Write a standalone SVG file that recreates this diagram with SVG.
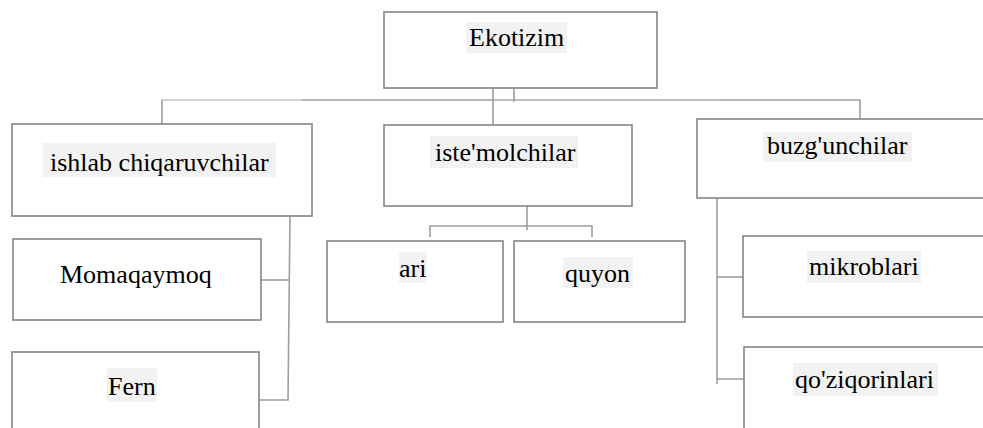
<svg xmlns="http://www.w3.org/2000/svg" width="983" height="428" viewBox="0 0 983 428">
<style>
.box{fill:#ffffff;stroke:#858585;stroke-width:1.6}
.hl{fill:#f2f2f2}
.c{fill:none;stroke:#9e9e9e;stroke-width:1.6}
.cl{fill:none;stroke:#c4c4c4;stroke-width:1.6}
</style>
<rect width="983" height="428" fill="#ffffff"/>
<g id="connectors">
<path class="cl" d="M162,100 H302"/>
<path class="c" d="M302,100 H860 V119"/>
<path class="cl" d="M493,100 H720"/>
<path class="c" d="M162,100 V124"/>
<path class="c" d="M493,88 V125"/>
<path class="c" d="M514,85 V102"/>
<path class="c" d="M290,216 L288,400 H260"/>
<path class="c" d="M257,280 H289"/>
<path class="c" d="M527,206 V230"/>
<path class="c" d="M430,237 V226 H592 V237"/>
<path class="c" d="M717,198 V384"/>
<path class="c" d="M717,277 H743"/>
<path class="c" d="M717,379 H752"/>
</g>
<g id="ekotizim">
<rect class="box" x="384" y="12" width="273" height="76"/>
<rect class="hl" x="466" y="22" width="101" height="31"/>
<text x="469" y="46" font-size="26" font-family="Liberation Serif">Ekotizim</text>
</g>
<g id="ishlab">
<rect class="box" x="12" y="124" width="300" height="92"/>
<rect class="hl" x="43" y="143" width="233" height="34"/>
<text x="50" y="171" font-size="26" font-family="Liberation Serif">ishlab chiqaruvchilar</text>
</g>
<g id="momaqaymoq">
<rect class="box" x="13" y="239" width="248" height="81"/>
<text x="60" y="283" font-size="26" font-family="Liberation Serif">Momaqaymoq</text>
</g>
<g id="fern">
<rect class="box" x="12" y="352" width="247" height="90"/>
<rect class="hl" x="107" y="368" width="50" height="34"/>
<text x="108" y="395" font-size="26" font-family="Liberation Serif">Fern</text>
</g>
<g id="istemolchilar">
<rect class="box" x="384" y="125" width="248" height="81"/>
<rect class="hl" x="430" y="136" width="148" height="32"/>
<text x="435" y="161" font-size="26" font-family="Liberation Serif">iste'molchilar</text>
</g>
<g id="ari">
<rect class="box" x="327" y="241" width="176" height="81"/>
<rect class="hl" x="399" y="252" width="28" height="31"/>
<text x="399" y="277" font-size="26" font-family="Liberation Serif">ari</text>
</g>
<g id="quyon">
<rect class="box" x="514" y="241" width="171" height="81"/>
<rect class="hl" x="563" y="257" width="70" height="31"/>
<text x="565" y="282" font-size="26" font-family="Liberation Serif">quyon</text>
</g>
<g id="buzgunchilar">
<rect class="box" x="697" y="119" width="300" height="79"/>
<rect class="hl" x="763" y="132" width="149" height="30"/>
<text x="767" y="154" font-size="26" font-family="Liberation Serif">buzg'unchilar</text>
</g>
<g id="mikroblari">
<rect class="box" x="743" y="236" width="260" height="81"/>
<rect class="hl" x="807" y="251" width="114" height="32"/>
<text x="809" y="275" font-size="26" font-family="Liberation Serif">mikroblari</text>
</g>
<g id="qoziqorinlari">
<rect class="box" x="744" y="347" width="260" height="100"/>
<rect class="hl" x="793" y="363" width="145" height="33"/>
<text x="795" y="388" font-size="26" font-family="Liberation Serif">qo'ziqorinlari</text>
</g>
</svg>
